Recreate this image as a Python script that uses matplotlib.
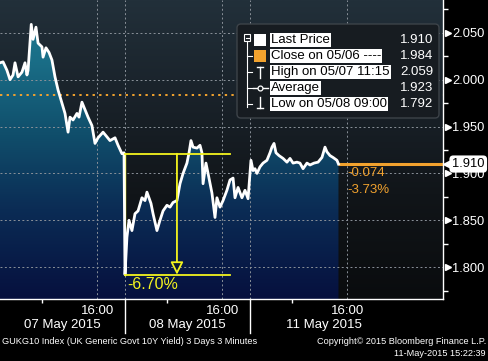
import numpy as np
import matplotlib
matplotlib.use('Agg')
import matplotlib.pyplot as plt
import matplotlib.transforms as mtransforms
from matplotlib.colors import LinearSegmentedColormap
from matplotlib.patches import Polygon, FancyBboxPatch, Rectangle
from matplotlib.lines import Line2D

plt.rcParams['font.family'] = ['Liberation Sans', 'DejaVu Sans']

# trading hours since 07 May 09:00 (each session drawn 09:00-18:00)
hours = [0.00, 0.22, 0.50, 0.72, 0.94, 1.08, 1.30, 1.58, 1.80, 1.94,
         2.02, 2.25, 2.38, 2.59, 2.74, 3.02, 3.10, 3.31, 3.53, 3.74,
         3.96, 4.18, 4.46, 4.68, 4.90, 5.04, 5.26, 5.54, 5.69, 5.90,
         6.12, 6.34, 6.62, 6.84, 7.06, 7.42, 7.70, 7.92, 8.28, 8.50,
         8.78, 8.93,
         9.00, 9.14, 9.29, 9.50, 9.72, 9.94, 10.22, 10.44, 10.58, 10.87,
         11.02, 11.30, 11.52, 11.74, 12.02, 12.24, 12.46, 12.74, 12.96, 13.18,
         13.46, 13.61, 13.75, 13.90, 14.18, 14.40, 14.54, 14.62, 14.83, 14.98,
         15.26, 15.48, 15.62, 15.84, 16.06, 16.34, 16.56, 16.78, 16.92, 17.14,
         17.42, 17.64, 17.86,
         18.07, 18.22, 18.36, 18.50, 18.72, 18.94, 19.22, 19.44, 19.58, 19.73,
         19.87, 20.09, 20.38, 20.66, 20.88, 21.10, 21.38, 21.60, 21.82, 22.10,
         22.32, 22.61, 22.90, 23.18, 23.40, 23.54, 23.76, 23.98, 24.26, 24.37]
yields = [2.018, 2.019, 2.010, 2.000, 2.005, 2.018, 2.003, 2.008, 2.018, 2.005,
          2.010, 2.059, 2.043, 2.056, 2.039, 2.035, 2.024, 2.034, 2.029, 2.021,
          2.003, 1.989, 1.975, 1.964, 1.944, 1.960, 1.957, 1.964, 1.960, 1.976,
          1.968, 1.960, 1.951, 1.932, 1.938, 1.944, 1.939, 1.935, 1.938, 1.930,
          1.921, 1.922,
          1.792, 1.832, 1.850, 1.839, 1.857, 1.860, 1.874, 1.871, 1.880, 1.868,
          1.857, 1.839, 1.850, 1.860, 1.866, 1.864, 1.869, 1.871, 1.889, 1.900,
          1.911, 1.922, 1.935, 1.928, 1.927, 1.930, 1.922, 1.889, 1.911, 1.900,
          1.879, 1.853, 1.874, 1.864, 1.871, 1.882, 1.893, 1.895, 1.874, 1.885,
          1.874, 1.882, 1.873,
          1.914, 1.903, 1.905, 1.900, 1.907, 1.911, 1.914, 1.922, 1.928, 1.932,
          1.922, 1.919, 1.916, 1.912, 1.916, 1.911, 1.912, 1.911, 1.905, 1.911,
          1.909, 1.911, 1.912, 1.917, 1.928, 1.923, 1.919, 1.917, 1.914, 1.910]

day_starts = [0, 9, 18]
day_labels = ['07 May 2015', '08 May 2015', '11 May 2015']
time_ticks = [7, 16, 25]
time_labels = ['16:00', '16:00', '16:00']
y_ticks = [1.80, 1.85, 1.90, 1.95, 2.00, 2.05]

last_price = 1.910
prev_close = 1.984
high_val = 2.059
avg_val = 1.923
low_val = 1.792
meas_top = 1.921
meas_end = 16.56
change_txt = ['-0.074', '-3.73%']
drop_txt = '-6.70%'

legend_labels = ['Last Price', 'Close on 05/06 ----', 'High on 05/07 11:15',
                 'Average', 'Low on 05/08 09:00']
legend_values = [last_price, prev_close, high_val, avg_val, low_val]

ORANGE = '#f2a22e'
YELLOW = '#f4f41e'
W, H = 488, 361
xmin, xmax = 0, 443 * 9 / 125
ymin, ymax = 1.766, 2.085

fig = plt.figure(figsize=(W / 100, H / 100), dpi=100, facecolor='black')
ax = fig.add_axes([0, 1 - 299 / H, 443 / W, 299 / H])
ax.set_facecolor('black')
# pixel coords, y pointing down
trpx = mtransforms.Affine2D().scale(1 / W, -1 / H).translate(0, 1) + fig.transFigure

grad = np.linspace(0, 1, 256).reshape(-1, 1)
bg_cmap = LinearSegmentedColormap.from_list(
    'bg', [(0, '#0a0c0e'), (0.35, '#111519'), (0.7, '#1a232b'), (1, '#22303a')])
ax.imshow(grad, cmap=bg_cmap, extent=[xmin, xmax, ymin, ymax], origin='lower',
          aspect='auto', zorder=0)

fill_cmap = LinearSegmentedColormap.from_list(
    'fill', [(0, '#06103e'), (0.3, '#0b2c55'), (0.55, '#104e6b'),
             (0.8, '#1a6e87'), (1, '#217d94')])
im = ax.imshow(grad, cmap=fill_cmap, extent=[xmin, xmax, ymin, ymax],
               origin='lower', aspect='auto', zorder=1)
verts = [(hours[0], ymin)] + list(zip(hours, yields)) + [(hours[-1], ymin)]
clip = Polygon(verts, closed=True, transform=ax.transData, fc='none', ec='none')
ax.add_patch(clip)
im.set_clip_path(clip)

ax.set_xlim(xmin, xmax)
ax.set_ylim(ymin, ymax)

grid_kw = dict(color='#8a9199', lw=0.7, dashes=(2, 2.5), zorder=2)
for y in y_ticks:
    ax.axhline(y, **grid_kw)
for x in time_ticks + day_starts[1:]:
    ax.axvline(x, **grid_kw)

# previous close (dotted) and last price level
ax.axhline(prev_close, color=ORANGE, lw=1.4, dashes=(1.2, 2.2), zorder=2.5)
ax.plot([hours[-1], xmax], [last_price, last_price], color=ORANGE, lw=2.2,
        zorder=3, solid_capstyle='butt')

ax.plot(hours, yields, color='white', lw=2.0, zorder=4, solid_joinstyle='round')

# high/low measurement
d0 = day_starts[1]
ax.plot([d0, meas_end], [meas_top, meas_top], color=YELLOW, lw=1.3, zorder=5)
ax.plot([d0, meas_end], [low_val, low_val], color=YELLOW, lw=1.3, zorder=5)
ax.plot([d0, d0], [low_val, meas_top], color=YELLOW, lw=1.0, zorder=3.5)
mid = (d0 + meas_end) / 2 - 0.04
ax.annotate('', xy=(mid, low_val), xytext=(mid, meas_top), zorder=5,
            arrowprops=dict(arrowstyle='-|>,head_length=0.75,head_width=0.38',
                            fc='#0c1830', ec=YELLOW, lw=1.3,
                            shrinkA=0, shrinkB=0, mutation_scale=10))
ax.text(11.0, 1.7815, drop_txt, color=YELLOW, fontsize=11.5, ha='center',
        va='center', zorder=6, clip_on=False)

ax.text(25.0, 1.9005, change_txt[0], color=ORANGE, fontsize=9.5, va='center', zorder=6)
ax.text(25.0, 1.8825, change_txt[1], color=ORANGE, fontsize=9.5, va='center', zorder=6)

# axes styling
for s in ['top', 'left']:
    ax.spines[s].set_visible(False)
for s in ['right', 'bottom']:
    ax.spines[s].set_color('white')
    ax.spines[s].set_linewidth(1.0)
    ax.spines[s].set_zorder(7)

ax.yaxis.tick_right()
ax.set_yticks(y_ticks)
ax.set_yticklabels(['%.3f' % v for v in y_ticks])
ax.set_yticks(np.arange(1.775, 2.08, 0.05), minor=True)
ax.tick_params(axis='y', which='major', length=0, pad=6.5, labelcolor='white',
               labelsize=9.3)
ax.tick_params(axis='y', which='minor', length=3.5, width=1, color='white',
               direction='out')
ax.set_xticks(time_ticks)
ax.set_xticklabels(time_labels)
ax.set_xticks([3, 12, 21], minor=True)
ax.tick_params(axis='x', which='major', length=0, pad=4, labelcolor='white',
               labelsize=9.5)
ax.tick_params(axis='x', which='minor', length=3, width=1, color='white',
               direction='out')

ybl = mtransforms.blended_transform_factory(ax.transAxes, ax.transData)
ax.plot([448 / 443] * len(y_ticks), y_ticks, ls='none', marker='>', ms=4,
        color='white', transform=ybl, clip_on=False, zorder=7)

# last price tag on the axis
ax.text(452 / 443, last_price, '%.3f' % last_price, transform=ybl, color='black',
        fontsize=9.3, va='center', ha='left', zorder=9, clip_on=False,
        bbox=dict(boxstyle='round,pad=0.2,rounding_size=0.3', fc='white', ec='none'))
ax.plot([447 / 443], [last_price], marker='<', ms=6, color='white',
        transform=ybl, clip_on=False, zorder=9)

# day separators and labels below the axis
xbl = mtransforms.blended_transform_factory(ax.transData, ax.transAxes)
for d in day_starts[1:]:
    ax.add_line(Line2D([d, d], [0, -34 / 299], color='white', lw=1.0,
                       transform=xbl, clip_on=False))
for d, lab, xo in zip(day_starts, day_labels, [4.5, 4.5, 5.3]):
    ax.text(d + xo, -26 / 299, lab, transform=xbl, color='white', fontsize=9.5,
            ha='center', va='center')

# legend box
fig.patches.append(FancyBboxPatch((237, 24), 202, 94,
                                  boxstyle='round,pad=0,rounding_size=4',
                                  fc='#171c21', ec='#3d4349', lw=1.0,
                                  transform=trpx, zorder=10))
rows = [40, 56, 72, 88, 104]
for y, lab, val in zip(rows, legend_labels, legend_values):
    fig.text(271, y, lab, transform=trpx, color='black', fontsize=9.5,
             va='center', ha='left', zorder=12,
             bbox=dict(boxstyle='square,pad=0.08', fc='white', ec='none'))
    fig.text(433, y, '%.3f' % val, transform=trpx, color='white', fontsize=9.5,
             va='center', ha='right', zorder=12)

def pline(xs, ys, **kw):
    fig.lines.append(Line2D(xs, ys, transform=trpx, zorder=12, **kw))

fig.patches.append(Rectangle((244, 34), 6, 7, fc='none', ec='white', lw=0.8,
                             transform=trpx, zorder=12))
pline([245.5, 248.5], [37.5, 37.5], color='white', lw=0.8)
pline([247, 247], [41, 107], color='white', lw=0.8)
for y in rows[1:]:
    pline([247, 252], [y, y], color='white', lw=0.8)
fig.patches.append(Rectangle((254, 34), 12, 12, fc='white', ec='none',
                             transform=trpx, zorder=12))
fig.patches.append(Rectangle((254, 50), 12, 12, fc=ORANGE, ec='none',
                             transform=trpx, zorder=12))
pline([260, 260], [67, 78], color='white', lw=1.0)
pline([257, 263], [67, 67], color='white', lw=1.0)
pline([253, 268], [88, 88], color='white', lw=1.0)
pline([260], [88], color='white', marker='o', ms=3.5, mfc='#171c21', mew=0.9)
pline([260, 260], [97, 108], color='white', lw=1.0)
pline([257, 263], [108, 108], color='white', lw=1.0)

# footer
fig.text(2, 342, 'GUKG10 Index (UK Generic Govt 10Y Yield) 3 Days 3 Minutes',
         transform=trpx, color='white', fontsize=6.6, va='center', ha='left')
fig.text(486, 342, 'Copyright\u00a9 2015 Bloomberg Finance L.P.',
         transform=trpx, color='white', fontsize=6.6, va='center', ha='right')
fig.text(486, 353, '11-May-2015 15:22:39', transform=trpx, color='white',
         fontsize=6.6, va='center', ha='right')

fig.savefig('out.png', dpi=100, facecolor='black')
